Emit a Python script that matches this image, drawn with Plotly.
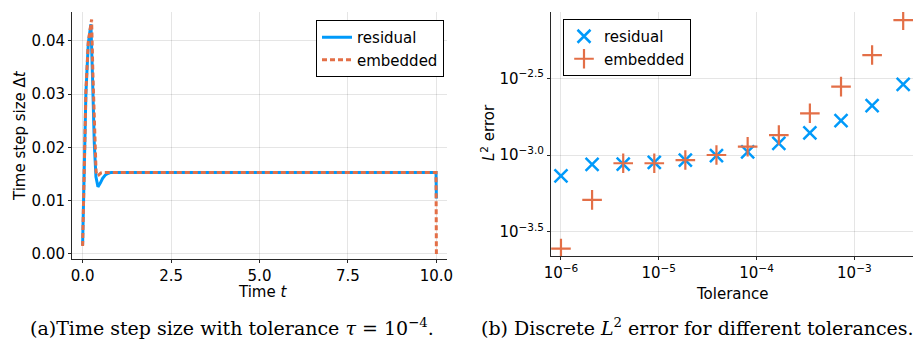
import plotly.graph_objects as go

# ---- data: (a) time step size over time ----
t_residual = [0.0, 0.057, 0.093, 0.16, 0.235, 0.28, 0.33, 0.377, 0.433, 0.5, 0.566, 0.64, 0.71, 0.8, 9.99, 10.0]
dt_residual = [0.0017, 0.0208, 0.0301, 0.0395, 0.0431, 0.0332, 0.0208, 0.0145, 0.0126, 0.0133, 0.0142, 0.0148, 0.0151, 0.0153, 0.0153, 0.0104]

t_embedded = [0.0, 0.057, 0.093, 0.16, 0.254, 0.29, 0.34, 0.38, 0.405, 0.45, 0.52, 0.6, 9.99, 10.0]
dt_embedded = [0.0015, 0.0212, 0.0305, 0.0398, 0.0440, 0.0340, 0.0210, 0.0155, 0.0147, 0.0148, 0.0152, 0.0153, 0.0153, 0.0]

# ---- data: (b) L2 error vs tolerance ----
tolerances = [1.0e-6, 2.08e-6, 4.33e-6, 9.0e-6, 1.87e-5, 3.89e-5, 8.11e-5, 1.69e-4, 3.51e-4, 7.31e-4, 1.52e-3, 3.16e-3]
log_err_residual = [-3.137, -3.061, -3.059, -3.048, -3.033, -3.004, -2.979, -2.924, -2.855, -2.776, -2.678, -2.539]
log_err_embedded = [-3.611, -3.293, -3.054, -3.054, -3.033, -3.000, -2.946, -2.870, -2.728, -2.554, -2.348, -2.120]
err_residual = [10 ** v for v in log_err_residual]
err_embedded = [10 ** v for v in log_err_embedded]

x_ticks_a = [0, 2.5, 5, 7.5, 10]
x_ticktext_a = ["0.0", "2.5", "5.0", "7.5", "10.0"]
y_ticks_a = [0, 0.01, 0.02, 0.03, 0.04]
y_ticktext_a = ["0.00", "0.01", "0.02", "0.03", "0.04"]
x_ticks_b = [1e-6, 1e-5, 1e-4, 1e-3]
x_ticktext_b = ["10<sup>−6</sup>", "10<sup>−5</sup>", "10<sup>−4</sup>", "10<sup>−3</sup>"]
y_ticks_b = [10 ** -3.5, 10 ** -3.0, 10 ** -2.5]
y_ticktext_b = ["10<sup>−3.5</sup>", "10<sup>−3.0</sup>", "10<sup>−2.5</sup>"]

BLUE = "rgb(0,154,250)"
ORANGE = "rgb(227,111,71)"
FONT = "DejaVu Sans"
W, H = 921, 343

fig = go.Figure()
fig.add_trace(go.Scatter(x=t_residual, y=dt_residual, mode="lines", name="residual",
                         line=dict(color=BLUE, width=3), xaxis="x", yaxis="y", legend="legend"))
fig.add_trace(go.Scatter(x=t_embedded, y=dt_embedded, mode="lines", name="embedded",
                         line=dict(color=ORANGE, width=3, dash="5px,3px"), xaxis="x", yaxis="y", legend="legend"))
fig.add_trace(go.Scatter(x=tolerances, y=err_residual, mode="markers", name="residual",
                         marker=dict(symbol="x-thin", size=13, line=dict(color=BLUE, width=2.5)),
                         xaxis="x2", yaxis="y2", legend="legend2"))
fig.add_trace(go.Scatter(x=tolerances, y=err_embedded, mode="markers", name="embedded",
                         marker=dict(symbol="cross-thin", size=14, line=dict(color=ORANGE, width=2.2)),
                         xaxis="x2", yaxis="y2", legend="legend2"))

axis_common = dict(showline=True, linecolor="rgb(40,40,40)", linewidth=1, mirror=False,
                   showgrid=True, gridcolor="rgba(0,0,0,0.1)", gridwidth=1, zeroline=False,
                   ticks="outside", ticklen=3, tickcolor="rgb(40,40,40)", automargin=False,
                   tickfont=dict(family=FONT, size=15, color="black"))

def px_x(p):
    return p / W

def px_y(p):
    return 1 - p / H

fig.update_layout(
    width=W, height=H, margin=dict(l=0, r=0, t=0, b=0, autoexpand=False),
    plot_bgcolor="white", paper_bgcolor="white",
    xaxis=dict(domain=[px_x(72), px_x(447)], range=[-0.3, 10.3], tickmode="array",
               tickvals=x_ticks_a, ticktext=x_ticktext_a, anchor="y", **axis_common),
    yaxis=dict(domain=[px_y(259), px_y(12)], range=[-0.00094, 0.0454], tickmode="array",
               tickvals=y_ticks_a, ticktext=y_ticktext_a, anchor="x", **axis_common),
    xaxis2=dict(domain=[px_x(551), px_x(913)], type="log", range=[-6.102, -2.4], tickmode="array",
                tickvals=x_ticks_b, ticktext=x_ticktext_b, anchor="y2", **axis_common),
    yaxis2=dict(domain=[px_y(256), px_y(12)], type="log", range=[-3.659, -2.067], tickmode="array",
                tickvals=y_ticks_b, ticktext=y_ticktext_b, anchor="x2", **axis_common),
    legend=dict(x=px_x(316), y=px_y(20), xanchor="left", yanchor="top",
                bgcolor="white", bordercolor="black", borderwidth=1,
                font=dict(family=FONT, size=15, color="black"), itemwidth=30,
                tracegroupgap=0),
    legend2=dict(x=px_x(563), y=px_y(19), xanchor="left", yanchor="top",
                 bgcolor="white", bordercolor="black", borderwidth=1,
                 font=dict(family=FONT, size=15, color="black"), itemwidth=30,
                 tracegroupgap=0),
    showlegend=True,
)

annotations = [
    dict(text="Time step size Δ<i>t</i>", x=px_x(20), y=px_y(136), textangle=-90),
    dict(text="Time <i>t</i>", x=px_x(262), y=px_y(292), textangle=0),
    dict(text="<i>L</i><sup>2</sup> error", x=px_x(488), y=px_y(133), textangle=-90),
    dict(text="Tolerance", x=px_x(732), y=px_y(294), textangle=0),
]
for a in annotations:
    fig.add_annotation(xref="paper", yref="paper", xanchor="center", yanchor="middle",
                       showarrow=False, font=dict(family=FONT, size=15, color="black"), **a)

captions = [
    dict(text="(a)Time step size with tolerance <i>τ</i> = 10<sup>−4</sup>.", x=px_x(232)),
    dict(text="(b) Discrete <i>L</i><sup>2</sup> error for different tolerances.", x=px_x(697)),
]
for c in captions:
    fig.add_annotation(xref="paper", yref="paper", y=px_y(327), xanchor="center", yanchor="middle",
                       showarrow=False, font=dict(family="DejaVu Serif", size=19, color="black"), **c)

fig.write_html("out.html", config={"displayModeBar": False},
               post_script="document.body.style.margin='0';document.body.style.overflow='hidden';")
